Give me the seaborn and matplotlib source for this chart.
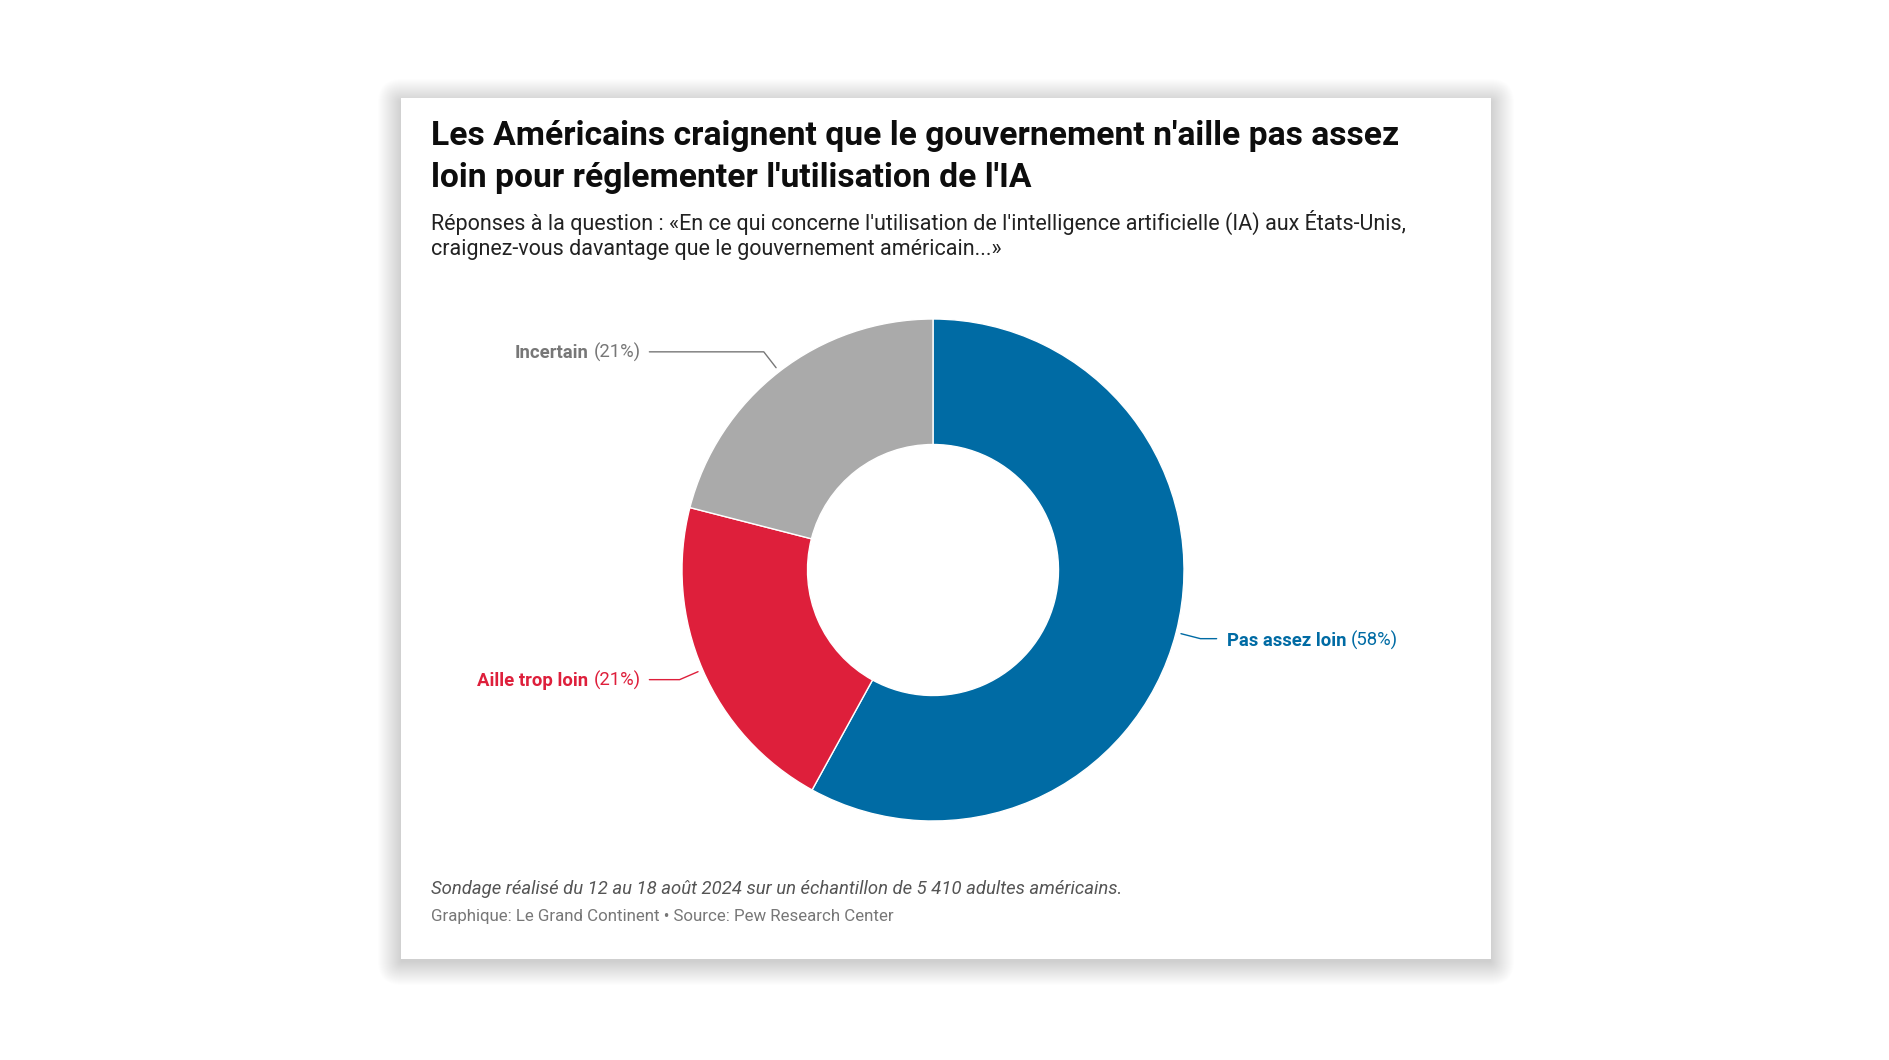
import numpy as np
import matplotlib.pyplot as plt
import matplotlib.patches as mpatches
import seaborn as sns

# data
categories = ["Pas assez loin", "Aille trop loin", "Incertain"]
values = [58, 21, 21]
colors = ["#006BA4", "#DE1F3B", "#AAAAAA"]
text_colors = ["#006BA4", "#DE1F3B", "#777777"]

title = "Les Américains craignent que le gouvernement n'aille pas assez\nloin pour réglementer l'utilisation de l'IA"
subtitle = ("Réponses à la question : «En ce qui concerne l'utilisation de l'intelligence artificielle (IA) aux États-Unis,\n"
            "craignez-vous davantage que le gouvernement américain...»")
note = "Sondage réalisé du 12 au 18 août 2024 sur un échantillon de 5 410 adultes américains."
source = "Graphique: Le Grand Continent • Source: Pew Research Center"

sns.set_theme(style="white")
plt.rcParams['font.family'] = ['Roboto', 'DejaVu Sans']

W, H = 1890, 1060
fig = plt.figure(figsize=(W / 100, H / 100), dpi=100)
fig.patch.set_facecolor("white")

# card with soft shadow (pixel coords)
cx0, cy0, cx1, cy1 = 401, 98, 1491, 959
bg = fig.add_axes([0, 0, 1, 1], zorder=0)
bg.set_xlim(0, W)
bg.set_ylim(H, 0)
bg.axis("off")
for i in range(24, 0, -1):
    bg.add_patch(mpatches.FancyBboxPatch((cx0 - i + 1, cy0 - i + 5), (cx1 - cx0) + 2 * i - 2, (cy1 - cy0) + 2 * i - 3,
                                         boxstyle="round,pad=0,rounding_size=%d" % i,
                                         facecolor="black", edgecolor="none", alpha=0.0085))
bg.add_patch(mpatches.Rectangle((cx0, cy0), cx1 - cx0, cy1 - cy0, facecolor="white", edgecolor="none"))

# texts
tx = 431
bg.text(tx, 120, title, fontsize=24.2, fontweight="bold", color="#0d0d0d", va="top", ha="left",
        linespacing=1.38)
bg.text(tx, 210, subtitle, fontsize=15.5, color="#222222", va="top", ha="left", linespacing=1.25)
bg.text(tx, 889, note, fontsize=13.35, color="#555555", style="italic", va="center", ha="left")
bg.text(tx, 917, source, fontsize=12.2, color="#777777", va="center", ha="left")

# donut
ccx, ccy, R = 933, 570, 251
ax = fig.add_axes([(ccx - R) / W, 1 - (ccy + R) / H, 2 * R / W, 2 * R / H], zorder=2)
wedges, _ = ax.pie(values, colors=colors, startangle=90, counterclock=False, radius=1,
                   wedgeprops=dict(width=0.5, edgecolor="white", linewidth=1))
ax.set_xlim(-1, 1)
ax.set_ylim(-1, 1)
ax.set_aspect("equal")
ax.axis("off")

fs = 13.3
for w, cat, val, tc in zip(wedges, categories, values, text_colors):
    ang = np.deg2rad((w.theta1 + w.theta2) / 2)
    c, s = np.cos(ang), np.sin(ang)
    side = 1 if c > 0 else -1
    p0 = (1.02 * c, 1.02 * s)
    p1 = (1.1 * c, 1.1 * s)
    p2 = (side * 1.13, p1[1])
    ax.plot([p0[0], p1[0], p2[0]], [p0[1], p1[1], p2[1]], color=tc, lw=1, clip_on=False)
    tx_ = side * 1.17
    if side > 0:
        t1 = ax.text(tx_, p2[1], cat, color=tc, fontsize=fs, fontweight="bold", ha="left",
                     va="center_baseline", clip_on=False)
        ax.annotate("(%d%%)" % val, xy=(1, 0), xycoords=t1, xytext=(3.5, 0), textcoords="offset points",
                    color=tc, fontsize=fs, ha="left", va="bottom")
    else:
        t1 = ax.text(tx_ + 0.005, p2[1] + 0.006, "(%d%%)" % val, color=tc, fontsize=fs, ha="right",
                     va="center_baseline", clip_on=False)
        ax.annotate(cat, xy=(0, 0), xycoords=t1, xytext=(-3.5, 0), textcoords="offset points",
                    color=tc, fontsize=fs, fontweight="bold", ha="right", va="bottom")

plt.savefig("out.png", dpi=100, facecolor="white")
